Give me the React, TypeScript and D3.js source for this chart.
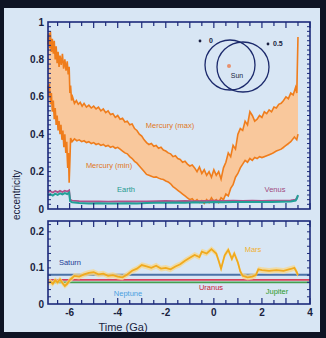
import * as d3 from "d3";

// time in Ga, eccentricity
const mercuryMax: [number, number][] = [
  [-6.9, 0.88], [-6.87, 0.94], [-6.83, 0.86], [-6.8, 0.95], [-6.76, 0.84], [-6.72, 0.91],
  [-6.68, 0.83], [-6.64, 0.9], [-6.6, 0.8], [-6.56, 0.87], [-6.52, 0.78], [-6.48, 0.84],
  [-6.44, 0.76], [-6.4, 0.82], [-6.35, 0.77], [-6.3, 0.83], [-6.25, 0.75], [-6.2, 0.8],
  [-6.15, 0.74], [-6.1, 0.79], [-6.06, 0.72], [-6.02, 0.76], [-5.99, 0.62], [-5.96, 0.66],
  [-5.92, 0.58], [-5.88, 0.6], [-5.8, 0.565], [-5.72, 0.58], [-5.64, 0.56], [-5.56, 0.57],
  [-5.48, 0.55], [-5.4, 0.565], [-5.3, 0.545], [-5.2, 0.555], [-5.1, 0.54], [-5.0, 0.55],
  [-4.9, 0.535], [-4.8, 0.545], [-4.7, 0.525], [-4.6, 0.535], [-4.5, 0.515], [-4.4, 0.525],
  [-4.3, 0.505], [-4.2, 0.51], [-4.1, 0.49], [-4.0, 0.5], [-3.9, 0.48], [-3.8, 0.485],
  [-3.7, 0.465], [-3.6, 0.47], [-3.5, 0.45], [-3.4, 0.455], [-3.3, 0.43], [-3.2, 0.42],
  [-3.1, 0.4], [-3.0, 0.39], [-2.9, 0.37], [-2.8, 0.355], [-2.7, 0.345], [-2.6, 0.35],
  [-2.5, 0.335], [-2.4, 0.34], [-2.3, 0.325], [-2.2, 0.33], [-2.1, 0.315], [-2.0, 0.31],
  [-1.9, 0.3], [-1.8, 0.295], [-1.7, 0.28], [-1.6, 0.285], [-1.5, 0.27], [-1.4, 0.265],
  [-1.3, 0.25], [-1.2, 0.255], [-1.1, 0.24], [-1.0, 0.23], [-0.9, 0.235], [-0.8, 0.22],
  [-0.7, 0.2], [-0.6, 0.225], [-0.5, 0.19], [-0.4, 0.21], [-0.3, 0.18], [-0.2, 0.2],
  [-0.1, 0.17], [0, 0.21], [0.1, 0.18], [0.2, 0.2], [0.3, 0.16], [0.4, 0.22], [0.5, 0.25],
  [0.6, 0.3], [0.7, 0.28], [0.8, 0.34], [0.9, 0.32], [1.0, 0.4], [1.1, 0.43], [1.2, 0.42],
  [1.3, 0.47], [1.4, 0.45], [1.5, 0.52], [1.6, 0.5], [1.7, 0.47], [1.8, 0.48], [1.9, 0.5],
  [2.0, 0.49], [2.1, 0.52], [2.2, 0.51], [2.3, 0.53], [2.4, 0.52], [2.5, 0.545], [2.6, 0.54],
  [2.7, 0.56], [2.8, 0.565], [2.9, 0.58], [3.0, 0.6], [3.1, 0.59], [3.2, 0.62], [3.3, 0.61],
  [3.4, 0.65], [3.45, 0.62], [3.48, 0.8], [3.5, 0.92],
];

const mercuryMin: [number, number][] = [
  [-6.9, 0.66], [-6.87, 0.6], [-6.84, 0.67], [-6.8, 0.56], [-6.76, 0.62], [-6.72, 0.52],
  [-6.68, 0.58], [-6.64, 0.48], [-6.6, 0.54], [-6.56, 0.45], [-6.52, 0.5], [-6.48, 0.42],
  [-6.44, 0.47], [-6.4, 0.4], [-6.36, 0.45], [-6.32, 0.37], [-6.28, 0.42], [-6.24, 0.33],
  [-6.2, 0.4], [-6.16, 0.3], [-6.12, 0.36], [-6.08, 0.22], [-6.05, 0.3], [-6.02, 0.14],
  [-5.99, 0.25], [-5.96, 0.38], [-5.9, 0.36], [-5.8, 0.375], [-5.7, 0.365], [-5.6, 0.37],
  [-5.5, 0.36], [-5.4, 0.365], [-5.3, 0.355], [-5.2, 0.36], [-5.1, 0.35], [-5.0, 0.355],
  [-4.9, 0.345], [-4.8, 0.35], [-4.7, 0.34], [-4.6, 0.345], [-4.5, 0.335], [-4.4, 0.34],
  [-4.3, 0.33], [-4.2, 0.335], [-4.1, 0.325], [-4.0, 0.33], [-3.9, 0.32], [-3.8, 0.31],
  [-3.7, 0.3], [-3.6, 0.295], [-3.5, 0.28], [-3.4, 0.27], [-3.3, 0.255], [-3.2, 0.245],
  [-3.1, 0.23], [-3.0, 0.215], [-2.9, 0.2], [-2.8, 0.185], [-2.7, 0.18], [-2.6, 0.175],
  [-2.5, 0.17], [-2.4, 0.172], [-2.3, 0.165], [-2.2, 0.16], [-2.1, 0.158], [-2.0, 0.15],
  [-1.9, 0.145], [-1.8, 0.135], [-1.7, 0.12], [-1.6, 0.11], [-1.5, 0.1], [-1.4, 0.09],
  [-1.3, 0.08], [-1.2, 0.07], [-1.1, 0.06], [-1.0, 0.05], [-0.9, 0.055], [-0.8, 0.04],
  [-0.7, 0.05], [-0.6, 0.035], [-0.5, 0.045], [-0.4, 0.03], [-0.3, 0.05], [-0.2, 0.035],
  [-0.1, 0.06], [0, 0.04], [0.1, 0.05], [0.2, 0.035], [0.3, 0.06], [0.4, 0.05], [0.5, 0.08],
  [0.6, 0.07], [0.7, 0.11], [0.8, 0.13], [0.9, 0.17], [1.0, 0.19], [1.1, 0.22], [1.2, 0.24],
  [1.3, 0.26], [1.4, 0.25], [1.5, 0.27], [1.6, 0.26], [1.7, 0.275], [1.8, 0.27], [1.9, 0.28],
  [2.0, 0.275], [2.2, 0.285], [2.4, 0.295], [2.6, 0.31], [2.8, 0.32], [3.0, 0.34], [3.2, 0.36],
  [3.35, 0.385], [3.45, 0.37], [3.5, 0.4],
];

const earth: [number, number][] = [
  [-6.9, 0.075], [-6.8, 0.08], [-6.7, 0.072], [-6.6, 0.082], [-6.5, 0.076], [-6.4, 0.084],
  [-6.3, 0.078], [-6.2, 0.085], [-6.1, 0.08], [-6.02, 0.088], [-5.98, 0.042], [-5.9, 0.036],
  [-5.6, 0.032], [-5.2, 0.03], [-4.8, 0.031], [-4.4, 0.029], [-4.0, 0.03], [-3.6, 0.031],
  [-3.2, 0.03], [-2.8, 0.032], [-2.4, 0.033], [-2.0, 0.034], [-1.6, 0.035], [-1.2, 0.034],
  [-0.8, 0.036], [-0.4, 0.035], [0, 0.037], [0.4, 0.036], [0.8, 0.038], [1.2, 0.037],
  [1.6, 0.038], [2.0, 0.037], [2.4, 0.038], [2.8, 0.039], [3.2, 0.04], [3.4, 0.045],
  [3.45, 0.055], [3.5, 0.075],
];

const venus: [number, number][] = [
  [-6.9, 0.09], [-6.8, 0.095], [-6.7, 0.088], [-6.6, 0.096], [-6.5, 0.09], [-6.4, 0.097],
  [-6.3, 0.091], [-6.2, 0.098], [-6.1, 0.093], [-6.02, 0.1], [-5.98, 0.05], [-5.9, 0.045],
  [-5.6, 0.042], [-5.2, 0.04], [-4.8, 0.041], [-4.4, 0.039], [-4.0, 0.04], [-3.6, 0.041],
  [-3.2, 0.04], [-2.8, 0.041], [-2.4, 0.042], [-2.0, 0.043], [-1.6, 0.042], [-1.2, 0.043],
  [-0.8, 0.042], [-0.4, 0.043], [0, 0.044], [0.4, 0.043], [0.8, 0.044], [1.2, 0.043],
  [1.6, 0.044], [2.0, 0.043], [2.4, 0.044], [2.8, 0.045], [3.2, 0.046], [3.4, 0.05],
  [3.5, 0.07],
];

const mars: [number, number][] = [
  [-6.9, 0.058], [-6.8, 0.062], [-6.7, 0.056], [-6.6, 0.066], [-6.5, 0.06], [-6.4, 0.068],
  [-6.3, 0.058], [-6.2, 0.05], [-6.1, 0.056], [-6.0, 0.066], [-5.9, 0.072], [-5.8, 0.078],
  [-5.6, 0.076], [-5.4, 0.082], [-5.2, 0.086], [-5.0, 0.088], [-4.8, 0.082], [-4.6, 0.084],
  [-4.4, 0.078], [-4.2, 0.08], [-4.0, 0.076], [-3.8, 0.074], [-3.6, 0.082], [-3.4, 0.092],
  [-3.2, 0.098], [-3.0, 0.108], [-2.8, 0.104], [-2.6, 0.1], [-2.4, 0.106], [-2.2, 0.098],
  [-2.0, 0.1], [-1.8, 0.096], [-1.6, 0.104], [-1.4, 0.11], [-1.2, 0.12], [-1.0, 0.128],
  [-0.8, 0.136], [-0.6, 0.13], [-0.5, 0.145], [-0.3, 0.14], [-0.1, 0.152], [0.1, 0.14],
  [0.2, 0.12], [0.3, 0.098], [0.45, 0.135], [0.6, 0.15], [0.75, 0.125], [0.85, 0.14],
  [1.0, 0.115], [1.1, 0.09], [1.2, 0.078], [1.4, 0.074], [1.6, 0.076], [1.75, 0.08],
  [1.85, 0.096], [2.0, 0.094], [2.3, 0.092], [2.6, 0.094], [2.9, 0.092], [3.2, 0.097],
  [3.35, 0.1], [3.45, 0.088], [3.5, 0.08],
];

const flatPlanets = [
  { name: "Saturn", e: 0.081, color: "#4a72a8" },
  { name: "Uranus", e: 0.067, color: "#d8405a" },
  { name: "Jupiter", e: 0.06, color: "#44a050" },
];

const topTicks = [0, 0.2, 0.4, 0.6, 0.8, 1];
const bottomTicks = [0, 0.1, 0.2];
const timeTicks = [-6, -4, -2, 0, 2, 4];

const W = 326, H = 338;
const left = 48, right = 310;
const top1 = 22, bot1 = 209;
const top2 = 221, bot2 = 304;
const font = "Liberation Sans, Arial, sans-serif";
const navy = "#1c2a7a";

export default function App() {
  const x = d3.scaleLinear([-6.9, 4], [left, right]);
  const y1 = d3.scaleLinear([0, 1], [bot1, top1]);
  const y2 = d3.scaleLinear([0, 0.23], [bot2, top2]);

  const line1 = d3.line<[number, number]>((d) => x(d[0]), (d) => y1(d[1]));
  const line2 = d3.line<[number, number]>((d) => x(d[0]), (d) => y2(d[1]));

  // band between min and max of Mercury
  const band = d3
    .area<[number, number]>()
    .x((d) => x(d[0]))
    .y0((d) => y1(d3.least(mercuryMin, (m) => Math.abs(m[0] - d[0]))![1]))
    .y1((d) => y1(d[1]));

  const marsBand = d3
    .area<[number, number]>()
    .x((d) => x(d[0]))
    .y0((d) => y2(d[1] - 0.008))
    .y1((d) => y2(d[1] + 0.008));

  const xMinor = d3.range(-6.5, 4.01, 0.5);

  const frame = (t: number, b: number, yMinor: number[], ys: d3.ScaleLinear<number, number>) => (
    <g>
      <rect x={left} y={t} width={right - left} height={b - t} fill="none" stroke={navy} strokeWidth={1.6} />
      {xMinor.map((v) => {
        const len = Number.isInteger(v) ? 6 : 4;
        return (
          <g key={v}>
            <line x1={x(v)} x2={x(v)} y1={t} y2={t + len} stroke={navy} strokeWidth={1.2} />
            <line x1={x(v)} x2={x(v)} y1={b} y2={b - len} stroke={navy} strokeWidth={1.2} />
          </g>
        );
      })}
      {yMinor.map((v, i) => (
        <g key={i}>
          <line x1={left} x2={left + 3} y1={ys(v)} y2={ys(v)} stroke={navy} strokeWidth={1} />
          <line x1={right} x2={right - 3} y1={ys(v)} y2={ys(v)} stroke={navy} strokeWidth={1} />
        </g>
      ))}
    </g>
  );

  return (
    <svg width={W} height={H} style={{ position: "absolute", left: 0, top: 0 }} fontFamily={font}>
      <rect width={W} height={H} fill="#0e1424" />
      <rect x={4} y={8} width={316} height={324} fill="#d8e6f4" />

      {/* top panel */}
      <path d={band(mercuryMax)!} fill="#f9c89c" />
      <path d={line1(mercuryMin)!} fill="none" stroke="#ef7d1c" strokeWidth={1.6} />
      <path d={line1(mercuryMax)!} fill="none" stroke="#ef7d1c" strokeWidth={1.6} />
      <path d={line1(venus)!} fill="none" stroke="#b0508a" strokeWidth={1.8} />
      <path d={line1(earth)!} fill="none" stroke="#22a098" strokeWidth={2} />
      {frame(top1, bot1, d3.range(0.025, 1, 0.025), y1)}
      {topTicks.map((v) => (
        <text key={v} x={left - 4} y={y1(v) + 3.5} textAnchor="end" fontSize={10} fontWeight="bold" fill="#1a1f40">
          {v === 0 || v === 1 ? String(v) : v.toFixed(1)}
        </text>
      ))}
      <text x={170} y={128} textAnchor="middle" fontSize={7.5} fill="#e0761c">Mercury (max)</text>
      <text x={109} y={168} textAnchor="middle" fontSize={7.5} fill="#e0761c">Mercury (min)</text>
      <text x={126} y={192} textAnchor="middle" fontSize={7.5} fill="#1f9a90">Earth</text>
      <text x={275} y={192} textAnchor="middle" fontSize={7.5} fill="#a04a80">Venus</text>

      {/* orbit sketch */}
      <ellipse cx={230} cy={65} rx={25} ry={25} fill="none" stroke="#1c2a6c" strokeWidth={1.3} />
      <ellipse cx={243} cy={67} rx={26} ry={25} fill="none" stroke="#1c2a6c" strokeWidth={1.3} />
      <circle cx={229} cy={66} r={2} fill="#e8906c" />
      <text x={237} y={78} textAnchor="middle" fontSize={7} fill="#1a1f40">Sun</text>
      <circle cx={200} cy={41} r={1.4} fill="#1a1f40" />
      <text x={209} y={43} fontSize={7} fontWeight="bold" fill="#1a1f40">0</text>
      <circle cx={268} cy={44} r={1.4} fill="#1a1f40" />
      <text x={273} y={46} fontSize={7} fontWeight="bold" fill="#1a1f40">0.5</text>

      {/* bottom panel */}
      {flatPlanets.map((p) => (
        <line key={p.name} x1={left} x2={right} y1={y2(p.e)} y2={y2(p.e)} stroke={p.color} strokeWidth={1.8} />
      ))}
      <path d={marsBand(mars)!} fill="#f6d890" opacity={0.8} />
      <path d={line2(mars)!} fill="none" stroke="#f0aa1e" strokeWidth={1.8} />
      {frame(top2, bot2, d3.range(0.02, 0.23, 0.02), y2)}
      {bottomTicks.map((v) => (
        <text key={v} x={left - 4} y={y2(v) + 3.5} textAnchor="end" fontSize={10} fontWeight="bold" fill="#1a1f40">
          {v === 0 ? "0" : v.toFixed(1)}
        </text>
      ))}
      <text x={70} y={265} textAnchor="middle" fontSize={7.5} fill="#243c94">Saturn</text>
      <text x={128} y={296} textAnchor="middle" fontSize={7.5} fill="#4aa0e0">Neptune</text>
      <text x={211} y={290} textAnchor="middle" fontSize={7.5} fill="#c8203a">Uranus</text>
      <text x={277} y={294} textAnchor="middle" fontSize={7.5} fill="#2a9a2a">Jupiter</text>
      <text x={253} y={252} textAnchor="middle" fontSize={7.5} fill="#f0b030">Mars</text>

      {timeTicks.map((v) => (
        <text key={v} x={x(v)} y={316} textAnchor="middle" fontSize={10} fontWeight="bold" fill="#1a1f40">
          {String(v)}
        </text>
      ))}
      <text x={123} y={331} textAnchor="middle" fontSize={11} fill="#1a1f40">Time (Ga)</text>
      <text transform="translate(20,195) rotate(-90)" textAnchor="middle" fontSize={10} fill="#1a1f40">
        eccentricity
      </text>
    </svg>
  );
}
